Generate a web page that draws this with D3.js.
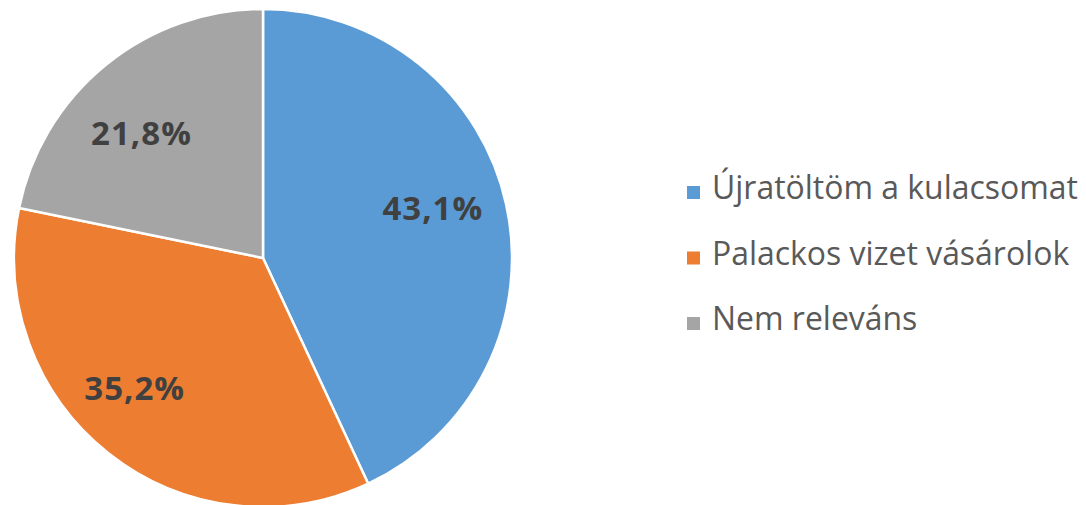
<!DOCTYPE html>
<html>
<head>
<meta charset="utf-8">
<script src="https://cdn.jsdelivr.net/npm/d3@7"></script>
<style>
  body { margin: 0; background: #fff; }
  svg { display: block; }
</style>
</head>
<body>
<div id="chart"></div>
<script>
// Data
const categories = ['Újratöltöm a kulacsomat', 'Palackos vizet vásárolok', 'Nem releváns'];
const shares = [43.1, 35.2, 21.8];
const labels = ['43,1%', '35,2%', '21,8%'];
const colors = ['#5B9BD5', '#ED7D31', '#A5A5A5'];

const width = 1086, height = 505;
const cx = 263, cy = 258, radius = 249;

const svg = d3.select('#chart').append('svg')
  .attr('width', width)
  .attr('height', height);

const pie = d3.pie().sort(null).value(d => d.value);
const data = categories.map((c, i) => ({ name: c, value: shares[i], label: labels[i], color: colors[i] }));
const arcs = pie(data);

const arc = d3.arc().innerRadius(0).outerRadius(radius);
const labelArc = d3.arc().innerRadius(178).outerRadius(178);
// small nudges so labels sit where Excel's best-fit placed them
const nudge = [[-4, -11], [-18, -9], [-9, 13]];

const g = svg.append('g').attr('transform', `translate(${cx},${cy})`);

g.selectAll('path.slice')
  .data(arcs)
  .enter().append('path')
  .attr('class', 'slice')
  .attr('d', arc)
  .attr('fill', d => d.data.color)
  .attr('stroke', '#fff')
  .attr('stroke-width', 2.5)
  .attr('stroke-linejoin', 'round');

g.selectAll('text.lbl')
  .data(arcs)
  .enter().append('text')
  .attr('class', 'lbl')
  .attr('transform', (d, i) => {
    const [x, y] = labelArc.centroid(d);
    return `translate(${x + nudge[i][0]},${y + nudge[i][1]})`;
  })
  .attr('text-anchor', 'middle')
  .attr('dy', '0.35em')
  .attr('font-family', '"Open Sans", sans-serif')
  .attr('font-weight', 700)
  .attr('font-size', 33)
  .attr('letter-spacing', 1)
  .attr('fill', '#404040')
  .text(d => d.data.label);

// Legend
const legend = svg.append('g').attr('transform', 'translate(687,199)');
const rowGap = 65.5;

const items = legend.selectAll('g.item')
  .data(data)
  .enter().append('g')
  .attr('class', 'item')
  .attr('transform', (d, i) => `translate(0,${i * rowGap})`);

items.append('rect')
  .attr('x', 0)
  .attr('y', -13)
  .attr('width', 13)
  .attr('height', 13)
  .attr('fill', d => d.color);

const legendText = items.append('text')
  .attr('x', 25)
  .attr('y', 0)
  .attr('font-family', '"Open Sans", sans-serif')
  .attr('font-size', 22)
  .attr('fill', '#595959')
  .text(d => d.name);

// fit legend font so the first entry spans about 366px like the original
const w0 = legendText.node().getComputedTextLength();
legendText.attr('font-size', 22 * 366 / w0);
</script>
</body>
</html>
